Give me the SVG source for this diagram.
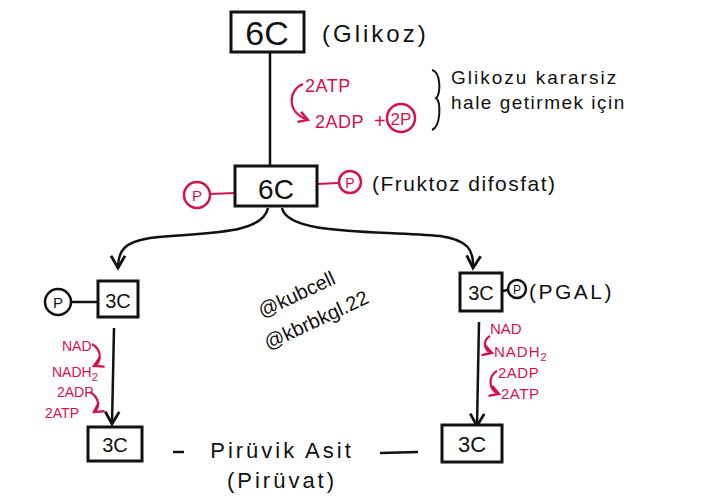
<svg xmlns="http://www.w3.org/2000/svg" width="721" height="502" viewBox="0 0 721 502">
<defs>
<marker id="ah" viewBox="0 0 10 10" refX="8" refY="5" markerWidth="7" markerHeight="7" orient="auto-start-reverse"><path d="M1,1 L8,5 L1,9" fill="none" stroke="#111" stroke-width="1.6"/></marker>
<marker id="rh" viewBox="0 0 10 10" refX="8" refY="5" markerWidth="6" markerHeight="6" orient="auto-start-reverse"><path d="M1,1 L8,5 L1,9" fill="none" stroke="#d3124f" stroke-width="1.8"/></marker>
<style>
.box{fill:#fff;stroke:#111;stroke-width:3}
.k{font-family:"Liberation Sans",Arial,sans-serif;fill:#111}
.r{font-family:"Liberation Sans",Arial,sans-serif;fill:#d3124f}
.ln{stroke:#111;stroke-width:2.5;fill:none}
.rl{stroke:#d3124f;stroke-width:2.2;fill:none}
.rc{fill:#fff;stroke:#d3124f;stroke-width:2.5}
.kc{fill:#fff;stroke:#111;stroke-width:2.5}
</style>
</defs>
<rect width="721" height="502" fill="#fff"/>

<g id="connectors">
<line class="ln" x1="270" y1="52" x2="270" y2="168"/>
<path class="ln" d="M268,208 C262,236 200,232 150,238 C125,242 118,250 118,268" marker-end="url(#ah)"/>
<path class="ln" d="M282,208 C288,236 380,230 440,236 C468,240 474,250 473,268" marker-end="url(#ah)"/>
<line class="ln" x1="114" y1="328" x2="112" y2="424" marker-end="url(#ah)"/>
<line class="ln" x1="479" y1="322" x2="477" y2="426" marker-end="url(#ah)"/>
<line class="ln" x1="173" y1="452" x2="184" y2="452"/>
<line class="ln" x1="380" y1="453" x2="418" y2="452"/>
</g>

<g id="n-glikoz">
<rect class="box" x="231" y="12" width="73" height="40"/>
<text class="k" x="267" y="45" font-size="34" text-anchor="middle">6C</text>
<text class="k" x="322" y="42" font-size="24" letter-spacing="3">(Glikoz)</text>
</g>

<g id="n-atp1">
<text class="r" x="305" y="92" font-size="18" letter-spacing="0.5">2ATP</text>
<path class="rl" d="M303,84 C288,90 286,112 308,120" marker-end="url(#rh)"/>
<text class="r" x="315" y="128" font-size="18" letter-spacing="0.5">2ADP</text>
<text class="r" x="374" y="128" font-size="20">+</text>
<circle class="rc" cx="401" cy="118" r="14"/>
<text class="r" x="401" y="125" font-size="17" text-anchor="middle">2P</text>
</g>

<g id="n-note">
<path d="M432,70 C441,72 441,95 436,98 C441,102 441,126 432,130" fill="none" stroke="#111" stroke-width="2"/>
<text class="k" x="451" y="84" font-size="19" letter-spacing="2">Glikozu kararsiz</text>
<text class="k" x="451" y="109" font-size="19" letter-spacing="1.5">hale getirmek için</text>
</g>

<g id="n-fruktoz">
<line class="rl" x1="210" y1="194" x2="235" y2="193"/>
<line class="rl" x1="317" y1="184" x2="338" y2="183"/>
<rect class="box" x="235" y="166" width="82" height="40"/>
<text class="k" x="276" y="199" font-size="28" text-anchor="middle">6C</text>
<circle class="rc" cx="197" cy="195" r="13"/>
<text class="r" x="197" y="201" font-size="15" text-anchor="middle">P</text>
<circle class="rc" cx="350" cy="182" r="11"/>
<text class="r" x="350" y="188" font-size="14" text-anchor="middle">P</text>
<text class="k" x="372" y="191" font-size="21" letter-spacing="1.5">(Fruktoz difosfat)</text>
</g>

<g id="n-3c-left">
<line class="ln" x1="71" y1="302" x2="98" y2="302"/>
<rect class="box" x="98" y="281" width="40" height="36"/>
<text class="k" x="118" y="308" font-size="20" text-anchor="middle">3C</text>
<circle class="kc" cx="58" cy="302" r="13"/>
<text class="k" x="58" y="308" font-size="15" text-anchor="middle">P</text>
</g>

<g id="n-red-left">
<text class="r" x="62" y="351" font-size="14">NAD</text>
<path class="rl" d="M92,344 C102,350 102,362 94,366" marker-end="url(#rh)"/>
<text class="r" x="52" y="377" font-size="14">NADH<tspan font-size="11" dy="4">2</tspan></text>
<text class="r" x="57" y="397" font-size="14">2ADP</text>
<path class="rl" d="M90,392 C100,398 100,408 94,412" marker-end="url(#rh)"/>
<text class="r" x="45" y="418" font-size="14">2ATP</text>
</g>

<g id="n-3c-right">
<line class="ln" x1="502" y1="291" x2="508" y2="290"/>
<rect class="box" x="460" y="273" width="42" height="38"/>
<text class="k" x="481" y="300" font-size="20" text-anchor="middle">3C</text>
<circle class="kc" cx="517" cy="289" r="9"/>
<text class="k" x="517" y="294" font-size="12" text-anchor="middle">P</text>
<text class="k" x="529" y="299" font-size="21" letter-spacing="2.5">(PGAL)</text>
</g>

<g id="n-red-right">
<text class="r" x="490" y="334" font-size="15">NAD</text>
<path class="rl" d="M490,336 C483,340 483,350 492,353" marker-end="url(#rh)"/>
<text class="r" x="494" y="357" font-size="15" letter-spacing="1">NADH<tspan font-size="11" dy="4">2</tspan></text>
<text class="r" x="498" y="378" font-size="15" letter-spacing="0.5">2ADP</text>
<path class="rl" d="M497,371 C488,376 488,390 499,394" marker-end="url(#rh)"/>
<text class="r" x="501" y="399" font-size="15" letter-spacing="0.5">2ATP</text>
</g>

<g id="n-3c-bottom-left">
<rect class="box" x="88" y="427" width="54" height="34"/>
<text class="k" x="115" y="452" font-size="20" text-anchor="middle">3C</text>
</g>

<g id="n-3c-bottom-right">
<rect class="box" x="442" y="425" width="60" height="37"/>
<text class="k" x="472" y="452" font-size="22" text-anchor="middle">3C</text>
</g>

<g id="n-piruvik">
<text class="k" x="282" y="458" font-size="22" letter-spacing="3" text-anchor="middle">Pirüvik Asit</text>
<text class="k" x="282" y="488" font-size="22" letter-spacing="3" text-anchor="middle">(Pirüvat)</text>
</g>

<g id="watermark">
<text class="k" x="262" y="318" font-size="20" transform="rotate(-25 262 318)">@kubcell</text>
<text class="k" x="268" y="350" font-size="20" transform="rotate(-25 268 350)">@kbrbkgl.22</text>
</g>
</svg>
